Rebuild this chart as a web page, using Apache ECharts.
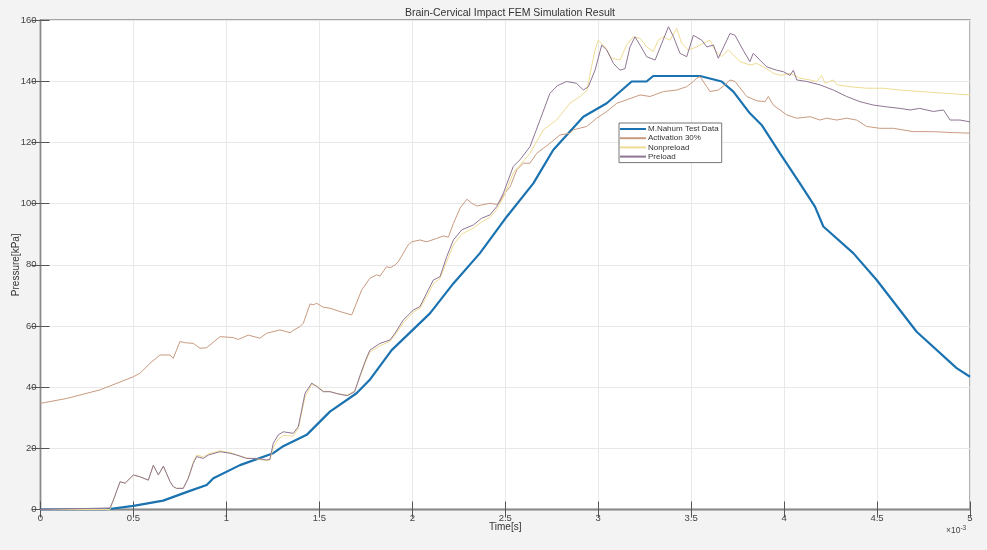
<!DOCTYPE html>
<html>
<head>
<meta charset="utf-8">
<script src="https://cdn.jsdelivr.net/npm/echarts@6/dist/echarts.min.js"></script>
<style>
html,body{margin:0;padding:0;background:#f3f3f3;}
#c{width:987px;height:550px;}
</style>
</head>
<body>
<div id="c"></div>
<script>
var titleText = 'Brain-Cervical Impact FEM Simulation Result';
var xName = 'Time[s]';
var yName = 'Pressure[kPa]';
var seriesNames = ['M.Nahum Test Data', 'Activation 30%', 'Nonpreload', 'Preload'];

var nahum = [[0,0],[0.35,0],[0.5,1.2],[0.66,2.9],[0.8,6],[0.894,8],[0.93,10.2],[1.073,14.5],[1.252,18.4],[1.3,20.5],[1.432,24.4],[1.557,32],[1.7,38],[1.77,42.3],[1.889,52.1],[2.095,64.1],[2.221,73.9],[2.364,83.8],[2.508,95.7],[2.651,106.6],[2.758,117.5],[2.92,128.4],[3.046,132.8],[3.18,139.9],[3.26,139.9],[3.296,141.7],[3.548,141.7],[3.664,139.9],[3.727,136.6],[3.816,129.5],[3.879,125.7],[3.978,116.4],[4.085,106.6],[4.166,99],[4.211,92.5],[4.372,83.8],[4.498,75],[4.713,58.1],[4.928,46.2],[5,43.4]];

var activation = [[0,34.7],[0.141,36.3],[0.32,39.1],[0.5,43.4],[0.535,44.5],[0.589,47.8],[0.643,50.5],[0.697,50.5],[0.714,49.4],[0.75,54.9],[0.78,54.5],[0.822,54.3],[0.858,52.7],[0.894,52.9],[0.966,56.5],[1.037,56.2],[1.064,55.6],[1.118,57.0],[1.18,56.0],[1.217,57.6],[1.288,58.7],[1.342,57.8],[1.369,58.9],[1.396,59.8],[1.414,60.9],[1.45,67.2],[1.467,66.9],[1.486,67.4],[1.521,66.1],[1.557,65.8],[1.611,64.7],[1.674,63.6],[1.692,66.3],[1.728,71.8],[1.772,75.6],[1.808,76.7],[1.826,76.3],[1.862,79.4],[1.88,79],[1.907,79.9],[1.925,81],[1.978,86.5],[1.997,87.5],[2.041,88.1],[2.077,87.5],[2.131,88.6],[2.167,89.4],[2.194,89.0],[2.221,93.5],[2.257,98.5],[2.293,101.4],[2.32,100.1],[2.347,99.2],[2.418,100.1],[2.454,99.7],[2.472,100.6],[2.49,102.8],[2.526,105.5],[2.562,111],[2.597,113.2],[2.633,113.2],[2.669,116.4],[2.74,119.7],[2.794,122.4],[2.848,123.0],[2.866,124.1],[2.938,125.2],[2.992,127.9],[3.046,130.1],[3.1,132.8],[3.153,133.9],[3.225,135.5],[3.279,135.0],[3.35,136.6],[3.422,137.1],[3.476,138.2],[3.512,139.9],[3.53,141.0],[3.548,141.5],[3.584,138.2],[3.601,136.6],[3.646,137.1],[3.682,138.8],[3.709,140.4],[3.736,139.9],[3.799,135],[3.853,133.6],[3.897,133.3],[3.915,135.0],[3.942,132.2],[4.014,129.0],[4.068,127.9],[4.14,128.4],[4.193,127.3],[4.229,127.9],[4.283,127.3],[4.336,127.9],[4.39,127.3],[4.444,125.2],[4.516,124.6],[4.588,124.6],[4.695,123.5],[4.803,123.5],[4.91,123.2],[5,123.0]];

var nonpreload = [[0,0],[0.374,0],[0.392,3],[0.428,9],[0.455,8.6],[0.5,11.2],[0.535,10.7],[0.58,9.6],[0.607,14.3],[0.634,11.3],[0.661,14.0],[0.697,9.1],[0.714,7.5],[0.732,6.9],[0.768,7.0],[0.795,10.4],[0.822,15.5],[0.84,17.8],[0.876,17.2],[0.903,18.2],[0.966,19.2],[1.019,18.6],[1.055,17.9],[1.109,16.8],[1.163,16.6],[1.217,16.0],[1.234,16.2],[1.252,20.2],[1.279,23.0],[1.306,24.2],[1.36,24.0],[1.387,26.5],[1.423,36.8],[1.459,40.8],[1.486,40.5],[1.521,38.7],[1.557,38.6],[1.6,37.8],[1.65,37.4],[1.69,38.8],[1.72,43.5],[1.75,48.5],[1.772,51.5],[1.826,53.5],[1.88,55.0],[1.907,57.0],[1.951,61.0],[2.005,64.5],[2.041,65.8],[2.086,70.5],[2.113,73.8],[2.149,75.5],[2.185,81.0],[2.221,86.5],[2.266,90.0],[2.328,92.0],[2.373,94.0],[2.418,95.5],[2.454,98.0],[2.49,102.0],[2.543,110.0],[2.6,114.0],[2.633,116.4],[2.705,124.1],[2.776,127.3],[2.848,132.8],[2.902,135],[2.94,137],[2.965,145],[2.983,150.2],[3.001,153.4],[3.037,151.2],[3.072,147.5],[3.117,146.9],[3.153,151.8],[3.189,154.5],[3.225,154],[3.261,151.2],[3.296,149.7],[3.323,153.4],[3.35,154.5],[3.386,153.4],[3.422,157.3],[3.449,152.4],[3.485,150.2],[3.53,151.2],[3.566,152.4],[3.601,153.4],[3.628,150.2],[3.664,148],[3.7,150.2],[3.727,148.6],[3.763,146.4],[3.816,145.3],[3.853,145.8],[3.906,144.1],[3.942,142.6],[3.98,141.9],[4.032,142.6],[4.085,141.0],[4.14,140.4],[4.175,139.9],[4.202,141.9],[4.22,139.3],[4.265,140.4],[4.283,138.8],[4.354,138.2],[4.444,137.7],[4.534,137.7],[4.624,137.1],[4.803,136.3],[5,135.5]];

var preload = [[0,0],[0.374,0.5],[0.392,3.1],[0.428,9.1],[0.455,8.6],[0.5,11.3],[0.535,10.7],[0.58,9.6],[0.607,14.5],[0.634,11.3],[0.661,14.2],[0.697,9.1],[0.714,7.5],[0.732,6.9],[0.768,6.9],[0.795,10.2],[0.822,15.1],[0.84,17.3],[0.876,16.7],[0.903,17.8],[0.966,18.9],[1.019,18.4],[1.055,17.8],[1.109,16.7],[1.163,16.7],[1.217,16.2],[1.234,16.4],[1.252,21.6],[1.279,24.4],[1.306,25.4],[1.36,24.9],[1.387,27.1],[1.423,38.0],[1.459,41.3],[1.486,40.2],[1.521,38.5],[1.557,38.5],[1.6,37.8],[1.65,37.2],[1.69,38.5],[1.72,44],[1.75,49],[1.772,52.1],[1.826,54.3],[1.88,55.4],[1.907,57.6],[1.951,61.9],[2.005,65.2],[2.041,66.3],[2.086,71.8],[2.113,75.0],[2.149,76.1],[2.185,82.6],[2.221,88.1],[2.266,91.4],[2.328,93.0],[2.373,95.2],[2.418,96.3],[2.454,99],[2.49,103.4],[2.543,112.1],[2.579,114.3],[2.633,118.6],[2.687,127.3],[2.74,136.0],[2.78,138.5],[2.83,139.9],[2.884,139.3],[2.92,137.1],[2.947,138.2],[2.983,143.6],[3.019,151.8],[3.046,150.2],[3.082,145.8],[3.117,143.6],[3.144,144.1],[3.171,151.2],[3.198,154.5],[3.225,151.8],[3.261,148.0],[3.306,146.9],[3.342,152.4],[3.378,157.8],[3.405,154.5],[3.44,149.1],[3.476,148.0],[3.512,155.0],[3.557,153.4],[3.584,151.2],[3.62,151.8],[3.646,147.5],[3.675,151.2],[3.709,155.6],[3.736,155.0],[3.779,150.2],[3.816,146.4],[3.834,149.1],[3.87,146.9],[3.906,144.7],[3.96,143.6],[3.996,143.1],[4.032,141.9],[4.05,143.6],[4.068,140.4],[4.122,139.9],[4.193,138.8],[4.265,137.1],[4.336,135.0],[4.408,133.3],[4.48,132.2],[4.552,131.6],[4.624,131.1],[4.678,130.6],[4.73,131.1],[4.803,130.1],[4.857,130.6],[4.893,127.3],[4.946,127.3],[5,126.7]];

var colors = ['#1a72b0', '#c99a80', '#eedb93', '#8e7592'];

var chart = echarts.init(document.getElementById('c'));
var axisLineStyle = {color: '#8a8a8a', width: 1.3};
var tickStyle = {color: '#555', width: 1};
var series = [nahum, activation, nonpreload, preload].map(function (d, i) {
  return {
    name: seriesNames[i],
    type: 'line',
    data: d,
    showSymbol: false,
    symbol: 'none',
    smooth: false,
    animation: false,
    lineStyle: {color: colors[i], width: i === 0 ? 2.2 : 1},
    itemStyle: {color: colors[i]},
    z: i === 0 ? 2 : 3
  };
});

chart.setOption({
  backgroundColor: '#f3f3f3',
  animation: false,
  title: {
    text: titleText,
    left: 505, top: 3, textAlign: 'center',
    textStyle: {fontSize: 10.5, fontWeight: 'normal', color: '#333', fontFamily: 'Liberation Sans'}
  },
  grid: {left: 40.5, right: 17, top: 20, bottom: 40.5, containLabel: false, outerBoundsMode: 'none', show: true, backgroundColor: '#ffffff', borderColor: '#8a8a8a', borderWidth: 1.3},
  legend: {
    orient: 'vertical', left: 619, top: 123,
    backgroundColor: '#ffffff', borderColor: '#777', borderWidth: 1,
    padding: [2, 3, 2, 1], itemGap: 1.2, itemWidth: 26, itemHeight: 2,
    icon: 'rect',
    textStyle: {fontSize: 8, color: '#333', padding: [0, 0, 0, -3], fontFamily: 'Liberation Sans'},
    data: seriesNames
  },
  xAxis: [{
    type: 'value', min: 0, max: 5, interval: 0.5,
    name: xName, nameLocation: 'middle', nameGap: 12.5, nameMoveOverlap: false,
    nameTextStyle: {fontSize: 10, color: '#333', fontFamily: 'Liberation Sans'},
    axisLine: {show: true, lineStyle: axisLineStyle},
    axisTick: {show: true, inside: true, length: 8, lineStyle: tickStyle},
    axisLabel: {fontSize: 9.5, color: '#444', margin: 4, fontFamily: 'Liberation Sans'},
    splitLine: {show: true, lineStyle: {color: '#e8e8e8', width: 1}}
  }, {
    type: 'value', min: 0, max: 5, interval: 0.5, position: 'top',
    axisLine: {show: true, lineStyle: axisLineStyle},
    axisTick: {show: true, inside: true, length: 8, lineStyle: tickStyle},
    axisLabel: {show: false}, splitLine: {show: false}
  }],
  yAxis: [{
    type: 'value', min: 0, max: 160, interval: 20,
    name: yName, nameLocation: 'middle', nameGap: 19, nameRotate: 90, nameMoveOverlap: false,
    nameTextStyle: {fontSize: 10, color: '#333', fontFamily: 'Liberation Sans'},
    axisLine: {show: true, lineStyle: axisLineStyle},
    axisTick: {show: true, inside: true, length: 9, lineStyle: tickStyle},
    axisLabel: {fontSize: 9.5, color: '#444', margin: 4, fontFamily: 'Liberation Sans'},
    splitLine: {show: true, lineStyle: {color: '#e8e8e8', width: 1}}
  }, {
    type: 'value', min: 0, max: 160, interval: 20, position: 'right',
    axisLine: {show: true, lineStyle: axisLineStyle},
    axisTick: {show: true, inside: true, length: 9, lineStyle: tickStyle},
    axisLabel: {show: false}, splitLine: {show: false}
  }],
  graphic: [{
    type: 'text', left: 946, top: 525,
    style: {
      text: '×10{sup|-3}',
      fill: '#444', fontSize: 8.5, fontFamily: 'Liberation Sans',
      rich: {sup: {fontSize: 6.5, verticalAlign: 'top', padding: [0, 0, 5, 0], fill: '#444'}}
    }
  }],
  series: series
});
</script>
</body>
</html>
